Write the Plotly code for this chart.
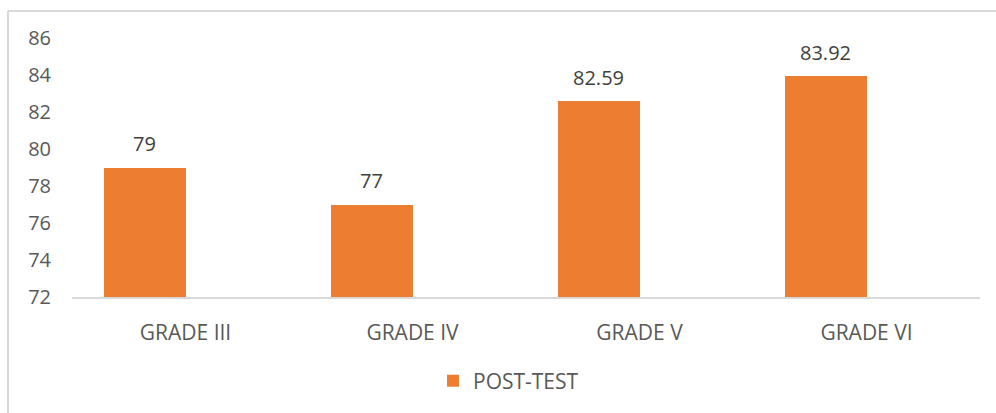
import plotly.graph_objects as go

categories = ["GRADE III", "GRADE IV", "GRADE V", "GRADE VI"]
post_test = [79, 77, 82.59, 83.92]
y_ticks = [72, 74, 76, 78, 80, 82, 84, 86]
series_name = "POST-TEST"

FONT = "Open Sans"
BAR_COLOR = "#ED7D31"

fig = go.Figure()
fig.add_trace(go.Bar(
    x=categories, y=post_test, name=series_name,
    marker=dict(color=BAR_COLOR, line=dict(width=0)),
    width=0.36, offset=-0.36,
    showlegend=True,
))

for c, v in zip(categories, post_test):
    fig.add_annotation(
        x=c, y=v, text=f"{v:g}", showarrow=False,
        xshift=-41, yshift=24,
        font=dict(family=FONT, size=20, color="#404040"),
    )

# chart frame (top and left edges visible)
L, R, T, B = 72, 16, 38, 116
W, H = 996 - L - R, 413 - T - B
def px2x(px): return (px - L) / W
def py2y(py): return (413 - B - py) / H
fig.add_shape(type="line", xref="paper", yref="paper",
              x0=px2x(8), x1=px2x(1000), y0=py2y(11), y1=py2y(11),
              line=dict(color="#D9D9D9", width=2))
fig.add_shape(type="line", xref="paper", yref="paper",
              x0=px2x(8), x1=px2x(8), y0=py2y(11), y1=py2y(420),
              line=dict(color="#D9D9D9", width=2))

fig.update_layout(
    width=996, height=413,
    margin=dict(l=L, r=R, t=T, b=B),
    paper_bgcolor="white", plot_bgcolor="white",
    font=dict(family=FONT, size=20, color="#595959"),
    showlegend=True,
    legend=dict(orientation="h", x=px2x(433), xanchor="left",
                y=py2y(381), yanchor="middle",
                font=dict(family=FONT, size=21, color="#595959")),
    xaxis=dict(showgrid=False, showline=True, linecolor="#D9D9D9", linewidth=1.5,
               ticks="", ticklabelstandoff=16, zeroline=False,
               tickfont=dict(family=FONT, size=21, color="#595959")),
    yaxis=dict(range=[72, 86], tickvals=y_ticks, showgrid=False, showline=False,
               zeroline=False, ticks="", ticklabelstandoff=20,
               tickfont=dict(family=FONT, size=20, color="#595959")),
    bargap=0,
)

fig.write_html("out.html", config={"displayModeBar": False, "staticPlot": False})

# remove the browser's default page margin so the figure sits at (0, 0)
with open("out.html", "r", encoding="utf-8") as f:
    html = f.read()
html = html.replace("<head>", "<head><style>html,body{margin:0;padding:0;overflow:hidden;}</style>", 1)
with open("out.html", "w", encoding="utf-8") as f:
    f.write(html)
